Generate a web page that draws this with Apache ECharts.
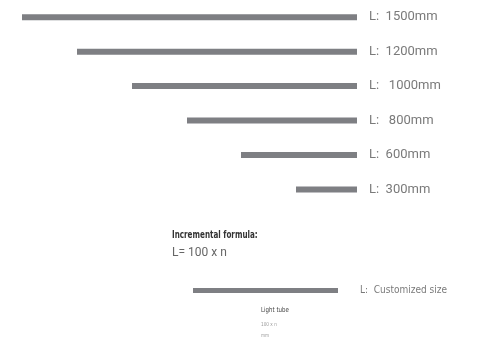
<!DOCTYPE html>
<html><head><meta charset="utf-8">
<script src="https://cdn.jsdelivr.net/npm/echarts@6/dist/echarts.min.js"></script>
<style>html,body{margin:0;padding:0;background:#fff}#c{width:477px;height:342px}</style>
</head><body><div id="c"></div>
<script>
// Categories (tube lengths) and drawn bar lengths
const categories = ['1500', '1200', '1000', '800', '600', '300'];
const tickLabels = ['L:  1500mm', 'L:  1200mm', 'L:   1000mm', 'L:   800mm', 'L:  600mm', 'L:  300mm'];
const barLengths = [335, 280, 225, 170, 116, 61];
const customCategory = ['custom'];
const customLabel = ['L:  Customized size'];
const customLength = [145];

const chart = echarts.init(document.getElementById('c'));
const barColor = '#7e7f83';
const cond = '"DejaVu Sans Condensed", "Roboto", sans-serif';
function txt(x, y, text, fill, font, sx) {
  return {type: 'text', x: x, y: y, scaleX: sx, originX: 0, originY: 0,
    style: {text: text, fill: fill, font: font, textVerticalAlign: 'middle'}};
}
chart.setOption({
  animation: false,
  grid: [
    {left: 22, right: 120, top: -1.6, height: 208.2},
    {left: 193, right: 139, top: 280, height: 21}
  ],
  xAxis: [
    {gridIndex: 0, type: 'value', min: 0, max: 335, inverse: true, show: false},
    {gridIndex: 1, type: 'value', min: 0, max: 145, show: false}
  ],
  yAxis: [
    {gridIndex: 0, type: 'category', data: categories, inverse: true, position: 'right',
     axisLine: {show: false}, axisTick: {show: false},
     axisLabel: {margin: 12, color: '#7a7a7a', fontFamily: 'Roboto', fontSize: 13,
       formatter: (v, i) => tickLabels[i]}},
    {gridIndex: 1, type: 'category', data: customCategory, position: 'right',
     axisLine: {show: false}, axisTick: {show: false},
     axisLabel: {margin: 22, color: '#7a7a7a', fontFamily: cond, fontSize: 10,
       formatter: (v, i) => customLabel[i]}}
  ],
  series: [
    {type: 'bar', xAxisIndex: 0, yAxisIndex: 0, data: barLengths, barWidth: 6,
     itemStyle: {color: barColor}},
    {type: 'bar', xAxisIndex: 1, yAxisIndex: 1, data: customLength, barWidth: 5,
     itemStyle: {color: barColor}}
  ],
  graphic: [
    txt(172, 235, 'Incremental formula:', '#333', 'bold 10px ' + cond, 0.8),
    txt(172, 253, 'L= 100 x n', '#666', '12px Roboto', 1),
    txt(261, 310.5, 'Light tube', '#444', '7px ' + cond, 0.87),
    txt(261, 325, '100 x n', '#999', '5.5px ' + cond, 0.85),
    txt(261, 336, 'mm', '#999', '5.5px ' + cond, 0.85)
  ]
});
</script></body></html>
